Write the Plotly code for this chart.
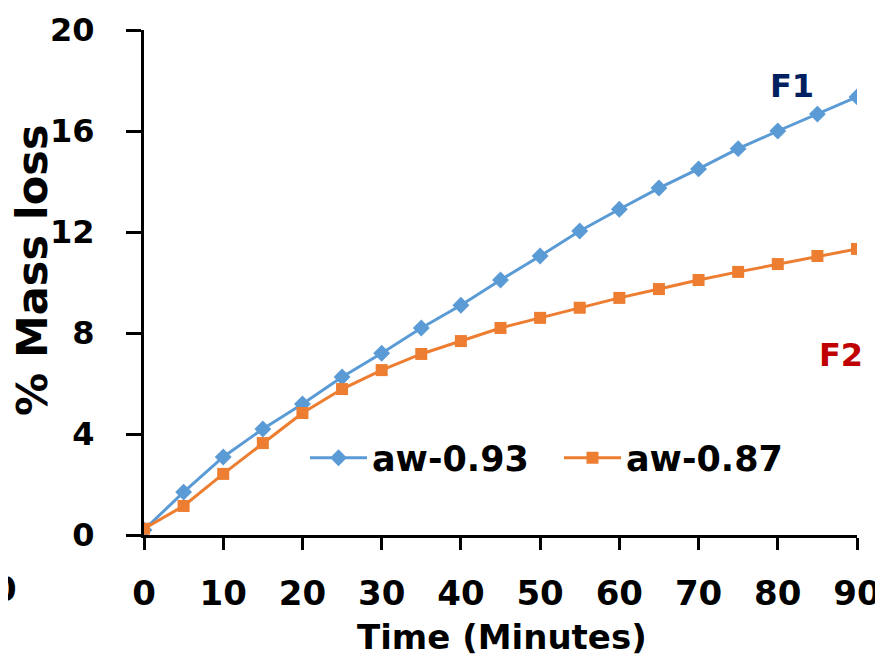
import plotly.graph_objects as go

time_min = [0, 5, 10, 15, 20, 25, 30, 35, 40, 45, 50, 55, 60, 65, 70, 75, 80, 85, 90]
aw093 = [0.2, 1.7, 3.09, 4.2, 5.19, 6.26, 7.2, 8.2, 9.1, 10.1, 11.05, 12.04, 12.9, 13.74, 14.5, 15.3, 16.0, 16.67, 17.35]
aw087 = [0.25, 1.15, 2.42, 3.64, 4.83, 5.78, 6.53, 7.17, 7.68, 8.2, 8.6, 9.0, 9.39, 9.74, 10.1, 10.42, 10.73, 11.05, 11.33]
series_names = ["aw-0.93", "aw-0.87"]
x_ticks = [0, 10, 20, 30, 40, 50, 60, 70, 80, 90]
y_ticks = [0, 4, 8, 12, 16, 20]
x_title = "Time (Minutes)"
y_title = "% Mass loss"

FONT = "DejaVu Sans"
W, H = 883, 661
# page body adds an 8px offset; plot area wanted at x 144..857, y 30..535 in the window
OFF = 8
PL, PR, PT, PB = 144, 857, 30, 535
L, T = PL - OFF, PT - OFF
R, B = W - (PR - OFF), H - (PB - OFF)
PW, PH = PR - PL, PB - PT


def px_x(v):
    return (v - PL) / PW


def px_y(v):
    return (PB - v) / PH


fig = go.Figure()
fig.add_trace(go.Scatter(x=time_min, y=aw093, mode="lines+markers", name=series_names[0],
                         line=dict(color="#5B9BD5", width=3),
                         marker=dict(symbol="diamond", size=13, color="#5B9BD5")))
fig.add_trace(go.Scatter(x=time_min, y=aw087, mode="lines+markers", name=series_names[1],
                         line=dict(color="#ED7D31", width=3),
                         marker=dict(symbol="square", size=12, color="#ED7D31")))

fig.update_layout(
    width=W, height=H,
    margin=dict(l=L, r=R, t=T, b=B),
    paper_bgcolor="white", plot_bgcolor="white",
    font=dict(family=FONT, color="black", size=32),
    legend=dict(orientation="h", x=px_x(305), y=px_y(458), xanchor="left", yanchor="middle",
                font=dict(family=FONT, size=35, weight="bold"),
                itemwidth=57, entrywidth=182, entrywidthmode="pixels",
                bgcolor="rgba(0,0,0,0)"),
    xaxis=dict(range=[0, 90], tickvals=x_ticks, showgrid=False, zeroline=False,
               showline=True, linecolor="black", linewidth=3, automargin=False,
               ticks="outside", ticklen=12, tickwidth=3, tickcolor="black",
               ticklabelstandoff=14,
               tickfont=dict(family=FONT, size=34, weight="bold")),
    yaxis=dict(range=[0, 20], tickvals=y_ticks, showgrid=False, zeroline=False,
               showline=True, linecolor="black", linewidth=3, automargin=False,
               ticks="outside", ticklen=15, tickwidth=3, tickcolor="black",
               ticklabelstandoff=25,
               tickfont=dict(family=FONT, size=32, weight="bold")),
)

# axis titles
fig.add_annotation(x=px_x(502), y=px_y(637), xref="paper", yref="paper", text=x_title,
                   showarrow=False, xanchor="center", yanchor="middle",
                   font=dict(family=FONT, size=34, weight="bold"))
fig.add_annotation(x=px_x(32), y=px_y(270), xref="paper", yref="paper", text=y_title,
                   showarrow=False, xanchor="center", yanchor="middle", textangle=-90,
                   font=dict(family=FONT, size=43, weight="bold"))

fig.add_annotation(x=81.8, y=17.8, xref="x", yref="y", text="F1", showarrow=False,
                   font=dict(family=FONT, size=32, weight="bold", color="#002060"))
fig.add_annotation(x=88.0, y=7.13, xref="x", yref="y", text="F2", showarrow=False,
                   font=dict(family=FONT, size=32, weight="bold", color="#C00000"))
fig.add_annotation(x=px_x(19), y=px_y(589), xref="paper", yref="paper", text="0",
                   showarrow=False, xanchor="right", yanchor="middle",
                   font=dict(family=FONT, size=34, weight="bold", color="black"))

fig.write_html("out.html")
